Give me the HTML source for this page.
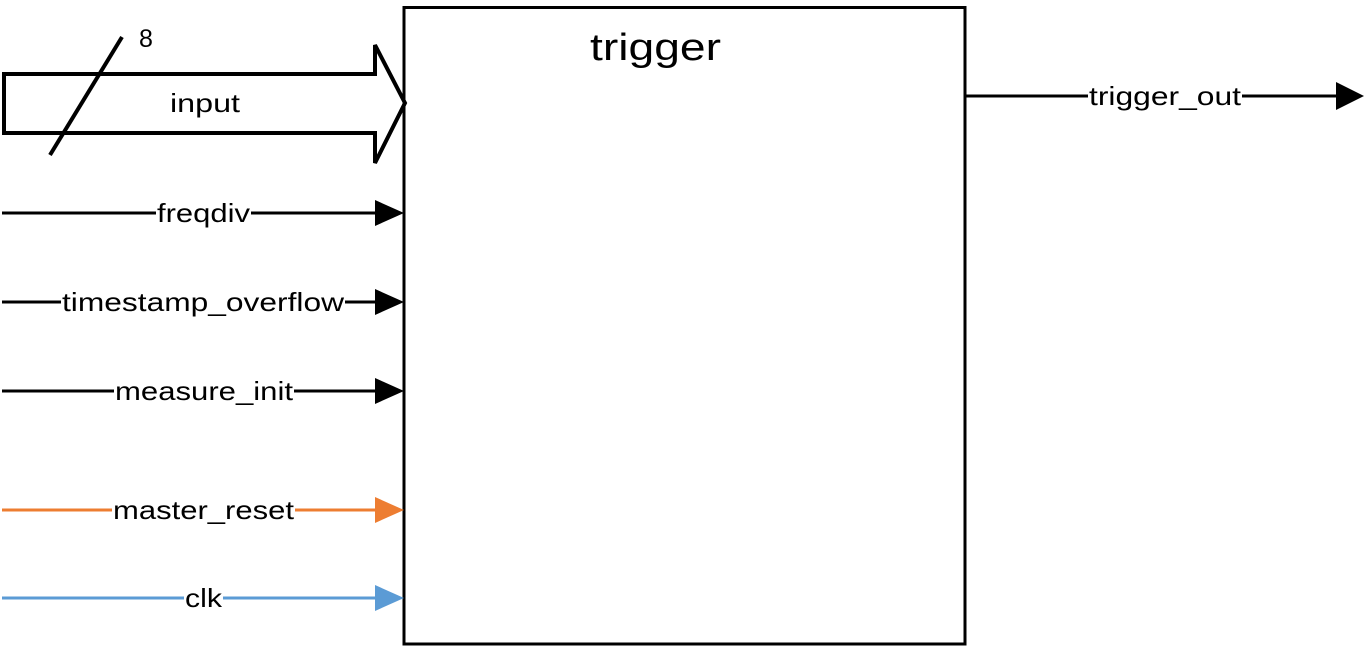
<!DOCTYPE html>
<html><head><meta charset="utf-8"><style>
html,body{margin:0;padding:0;background:#fff;width:1366px;height:647px;overflow:hidden}
text{font-family:"Liberation Sans",sans-serif}
</style></head><body>
<svg width="1366" height="647" viewBox="0 0 1366 647">
<rect x="404" y="7.5" width="561" height="636.5" fill="none" stroke="#000" stroke-width="3"/>
<text x="590" y="60" font-size="38" textLength="131" lengthAdjust="spacingAndGlyphs">trigger</text>
<g>
<polygon points="4,74 375,74 375,45 405,103 375,163 375,133 4,133" fill="none" stroke="#000" stroke-width="4" stroke-linejoin="miter"/>
<line x1="50" y1="155" x2="122" y2="37" stroke="#000" stroke-width="4"/>
<text x="146" y="47" font-size="25" text-anchor="middle">8</text>
<text x="170" y="112" font-size="26" textLength="70" lengthAdjust="spacingAndGlyphs">input</text>
</g>
<g id="sigs"></g>
<g>
<line x1="965" y1="96" x2="1337" y2="96" stroke="#000" stroke-width="3"/>
<polygon points="1336,82 1364,96 1336,110" fill="#000"/>
<rect x="1088" y="84" width="154" height="24" fill="#fff"/>
<text x="1089" y="105" font-size="26" textLength="152" lengthAdjust="spacingAndGlyphs">trigger_out</text>
</g>
</svg>
<script>
const names=['freqdiv','timestamp_overflow','measure_init','master_reset','clk'];
const ys=[213,302,391,510,598];
const colors=['#000','#000','#000','#ED7D31','#5B9BD5'];
const xs=[157,62,115,113,185];
const ws=[93,282,178,181,37];
const g=document.getElementById('sigs');
const NS='http://www.w3.org/2000/svg';
names.forEach((n,i)=>{
 const grp=document.createElementNS(NS,'g');
 
 
 const y=ys[i],c=colors[i];
 grp.innerHTML=`<line x1="2" y1="${y}" x2="377" y2="${y}" stroke="${c}" stroke-width="3"/>
 <polygon points="375,${y-13} 404,${y} 375,${y+13}" fill="${c}"/>
 <rect x="${xs[i]-1}" y="${y-12}" width="${ws[i]+2}" height="24" fill="#fff"/>`;
 const t=document.createElementNS(NS,'text');
 
 
 t.setAttribute('x',xs[i]);t.setAttribute('y',y+9);t.setAttribute('font-size','26');
 t.setAttribute('textLength',ws[i]);t.setAttribute('lengthAdjust','spacingAndGlyphs');
 t.textContent=n;
 grp.appendChild(t);
 g.appendChild(grp);
});
</script>
</body></html>
